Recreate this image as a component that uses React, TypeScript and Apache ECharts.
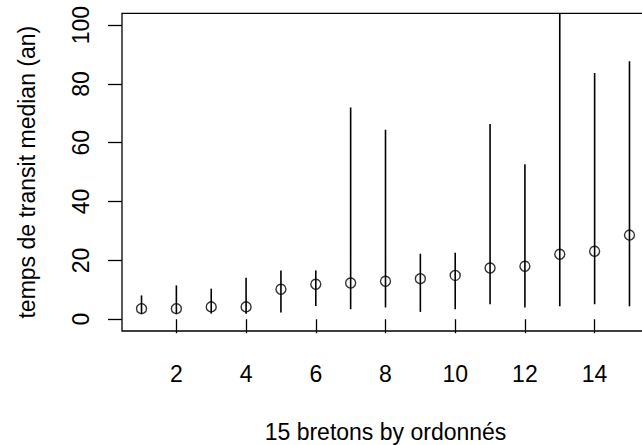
import React, { useEffect, useRef } from "react";
import * as echarts from "echarts";

const positions = [1, 2, 3, 4, 5, 6, 7, 8, 9, 10, 11, 12, 13, 14, 15];
const medians = [3.6, 3.6, 4.2, 4.2, 10.2, 11.9, 12.3, 12.9, 13.8, 14.9, 17.4, 18.0, 22.1, 23.1, 28.6];
const lows = [1.9, 1.9, 1.9, 1.9, 2.3, 4.5, 3.4, 4.0, 2.5, 3.4, 5.1, 4.0, 4.4, 5.1, 4.4];
const highs = [8.1, 11.5, 10.4, 14.1, 16.6, 16.6, 72.0, 64.4, 22.3, 22.6, 66.4, 52.7, 108, 83.7, 87.7];
const xTicks = [2, 4, 6, 8, 10, 12, 14];
const yTicks = [0, 20, 40, 60, 80, 100];
const xTitle = "15 bretons by ordonnés";
const yTitle = "temps de transit median (an)";

const FONT = "'Liberation Sans', Arial, sans-serif";
const FS = 23;

export default function App() {
  const ref = useRef<HTMLDivElement>(null);
  useEffect(() => {
    if (!ref.current) return;
    const chart = echarts.init(ref.current, null, { renderer: "svg" });
    const whiskers = positions.map((p, i) => [p, lows[i], highs[i]]);
    const points = positions.map((p, i) => [p, medians[i]]);
    chart.setOption({
      animation: false,
      backgroundColor: "#fff",
      textStyle: { fontFamily: FONT, color: "#000" },
      grid: {
        left: 122,
        top: 13.3,
        width: 527,
        height: 317.7,
        containLabel: false,
        outerBoundsMode: "none",
        show: true,
        borderColor: "#000",
        borderWidth: 1.3,
        backgroundColor: "transparent",
      },
      xAxis: {
        type: "value",
        min: 0.44,
        max: 15.56,
        name: xTitle,
        nameLocation: "middle",
        nameGap: 89,
        nameTextStyle: { fontFamily: FONT, fontSize: FS, color: "#000" },
        axisLine: { show: false },
        splitLine: { show: false },
        axisTick: {
          show: true,
          length: 14,
          customValues: xTicks,
          lineStyle: { color: "#000", width: 1.3 },
        },
        axisLabel: {
          show: true,
          customValues: xTicks,
          margin: 31,
          fontFamily: FONT,
          fontSize: FS,
          color: "#000",
        },
      },
      yAxis: {
        type: "value",
        min: -4,
        max: 104,
        name: yTitle,
        nameLocation: "middle",
        nameGap: 84,
        nameRotate: 90,
        nameTextStyle: { fontFamily: FONT, fontSize: FS, color: "#000" },
        axisLine: { show: false },
        splitLine: { show: false },
        axisTick: {
          show: true,
          length: 14,
          customValues: yTicks,
          lineStyle: { color: "#000", width: 1.3 },
        },
        axisLabel: {
          show: true,
          customValues: yTicks,
          rotate: 90,
          margin: 30,
          fontFamily: FONT,
          fontSize: FS,
          color: "#000",
        },
      },
      series: [
        {
          type: "custom",
          clip: true,
          data: whiskers,
          encode: { x: 0, y: [1, 2] },
          renderItem: (params: any, api: any) => {
            const x = api.value(0);
            const p1 = api.coord([x, api.value(1)]);
            const p2 = api.coord([x, api.value(2)]);
            return {
              type: "line",
              shape: { x1: p1[0], y1: p1[1], x2: p2[0], y2: p2[1] },
              style: { stroke: "#000", lineWidth: 1.6 },
            };
          },
          z: 2,
        },
        {
          type: "scatter",
          data: points,
          symbol: "circle",
          symbolSize: 10,
          itemStyle: { color: "transparent", borderColor: "#000", borderWidth: 1.4 },
          z: 3,
        },
      ],
    });
    return () => chart.dispose();
  }, []);
  return (
    <div style={{ position: "fixed", left: 0, top: 0, width: 642, height: 445, overflow: "hidden", background: "#fff" }}>
      <div ref={ref} style={{ width: 660, height: 445 }} />
    </div>
  );
}
